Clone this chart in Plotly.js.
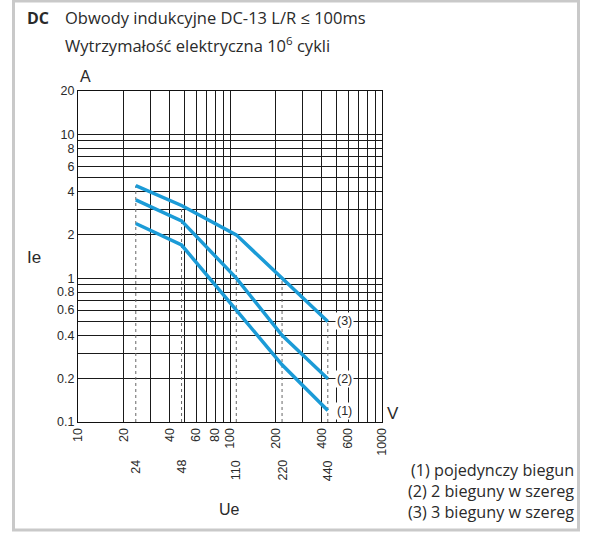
<!DOCTYPE html>
<html><head><meta charset="utf-8">
<script src="https://cdn.plot.ly/plotly-3.0.1.min.js"></script>
<style>html,body{margin:0;padding:0;background:#fff}#chart{width:593px;height:534px}</style>
</head><body><div id="chart"></div>
<script>
// ---- data ----
const voltages = [24, 48, 110, 220, 440];
const curve1 = [2.4, 1.7, 0.6, 0.25, 0.12];   // (1) pojedynczy biegun
const curve2 = [3.5, 2.5, 1.0, 0.4, 0.2];     // (2) 2 bieguny w szeregu
const curve3 = [4.4, 3.2, 2.0, 1.0, 0.5];     // (3) 3 bieguny w szeregu
const curveTags = ['(1)', '(2)', '(3)'];
const legendLines = ['(1) pojedynczy biegun', '(2) 2 bieguny w szereg', '(3) 3 bieguny w szereg'];
const xTickVals = [10,20,30,40,50,60,70,80,90,100,200,300,400,500,600,700,800,900,1000];
const xTickText = ['10','20',' ','40',' ','60',' ','80',' ','100','200',' ','400',' ','600',' ',' ',' ','1000'];
const yTickVals = [0.1,0.2,0.3,0.4,0.5,0.6,0.7,0.8,0.9,1,2,3,4,5,6,7,8,9,10,20];
const yTickText = ['0.1','0.2',' ','0.4',' ','0.6',' ','0.8',' ','1','2',' ','4',' ','6',' ','8',' ','10','20'];
const titleLine1 = 'Obwody indukcyjne DC-13 L/R ≤ 100ms';
const titleLine2 = 'Wytrzymałość elektryczna 10<sup>6</sup> cykli';

// ---- layout geometry ----
const W = 593, H = 534;
const M = {l: 78, r: 211, t: 91, b: 112};
const PW = W - M.l - M.r, PH = H - M.t - M.b;
const px = v => (v - M.l) / PW;
const py = v => (H - M.b - v) / PH;

const BLUE = '#1b9bd7';
const GE = '"Open Sans", sans-serif';
const AR = '"Liberation Sans", Arial, sans-serif';
const TXT = '#2a2a2a';

const traces = [];
// dotted reference lines (inside plot)
voltages.forEach((v, i) => {
  traces.push({x: [v, v], y: [0.1, curve3[i]], mode: 'lines', hoverinfo: 'skip',
    line: {color: '#666', width: 1, dash: 'dot'}, showlegend: false});
});
[curve1, curve2, curve3].forEach(c => {
  traces.push({x: voltages, y: c, mode: 'lines', hoverinfo: 'skip',
    line: {color: BLUE, width: 3.5}, showlegend: false});
});

const annotations = [];
const shapes = [];
// dotted extensions below axis + second-row labels
voltages.forEach(v => {
  shapes.push({type: 'line', xref: 'x', yref: 'paper', x0: Math.log10(v), x1: Math.log10(v),
    y0: 0, y1: py(456), line: {color: '#666', width: 1, dash: 'dot'}});
  annotations.push({xref: 'x', yref: 'paper', x: Math.log10(v), y: py(458), text: String(v),
    textangle: -90, xanchor: 'center', yanchor: 'top', showarrow: false,
    font: {family: AR, size: 12.5, color: TXT}});
});
// curve end tags
[curve1, curve2, curve3].forEach((c, i) => {
  annotations.push({xref: 'x', yref: 'y', x: Math.log10(voltages[voltages.length-1]),
    y: Math.log10(c[c.length-1]), text: curveTags[i], xanchor: 'left', yanchor: 'middle',
    xshift: 7, showarrow: false, bgcolor: '#fff', borderpad: 1,
    font: {family: AR, size: 12.5, color: TXT}});
});
// axis labels
annotations.push({xref: 'paper', yref: 'paper', x: px(85), y: py(76.5), text: 'A', showarrow: false,
  xanchor: 'center', yanchor: 'middle', font: {family: AR, size: 16, color: TXT}});
annotations.push({xref: 'paper', yref: 'paper', x: px(392.5), y: py(413), text: 'V', showarrow: false,
  xanchor: 'center', yanchor: 'middle', font: {family: AR, size: 17, color: TXT}});
annotations.push({xref: 'paper', yref: 'paper', x: px(34), y: py(257), text: 'Ie', showarrow: false,
  xanchor: 'center', yanchor: 'middle', font: {family: AR, size: 17, color: TXT}});
annotations.push({xref: 'paper', yref: 'paper', x: px(229.5), y: py(509), text: 'Ue', showarrow: false,
  xanchor: 'center', yanchor: 'middle', font: {family: AR, size: 16, color: TXT}});
// title block
annotations.push({xref: 'paper', yref: 'paper', x: px(25), y: py(18), text: '<b>DC</b>', showarrow: false,
  xanchor: 'left', yanchor: 'middle', font: {family: GE, size: 16, color: TXT}});
annotations.push({xref: 'paper', yref: 'paper', x: px(63), y: py(18), text: titleLine1, showarrow: false,
  xanchor: 'left', yanchor: 'middle', font: {family: GE, size: 16.5, color: TXT}});
annotations.push({xref: 'paper', yref: 'paper', x: px(63), y: py(45), text: titleLine2, showarrow: false,
  xanchor: 'left', yanchor: 'middle', font: {family: GE, size: 16.5, color: TXT}});
// legend block (one multi-line text, right aligned)
annotations.push({xref: 'paper', yref: 'paper', x: px(576), y: py(491), text: legendLines.join('<br>'),
  showarrow: false, align: 'right', xanchor: 'right', yanchor: 'middle',
  font: {family: GE, size: 16.2, color: TXT}});
// outer frame
shapes.push({type: 'rect', xref: 'paper', yref: 'paper', x0: px(13.5), x1: px(578.5), y0: py(530), y1: py(1),
  line: {color: '#c9c9c9', width: 3}, fillcolor: 'rgba(0,0,0,0)', layer: 'below'});

const axisCommon = {
  type: 'log', showgrid: true, gridcolor: '#1a1a1a', gridwidth: 1,
  showline: true, linecolor: '#111', linewidth: 1, mirror: true,
  zeroline: false, ticks: '', tickmode: 'array',
  tickfont: {family: AR, size: 12.5, color: TXT}, fixedrange: true
};

const layout = {
  width: W, height: H, margin: M,
  paper_bgcolor: '#fff', plot_bgcolor: '#fff', showlegend: false,
  xaxis: Object.assign({}, axisCommon, {range: [1, 3], tickvals: xTickVals, ticktext: xTickText, tickangle: -90}),
  yaxis: Object.assign({}, axisCommon, {range: [-1, Math.log10(20)], tickvals: yTickVals, ticktext: yTickText}),
  annotations: annotations, shapes: shapes
};

Plotly.newPlot('chart', traces, layout, {staticPlot: true, displayModeBar: false});
</script></body></html>
